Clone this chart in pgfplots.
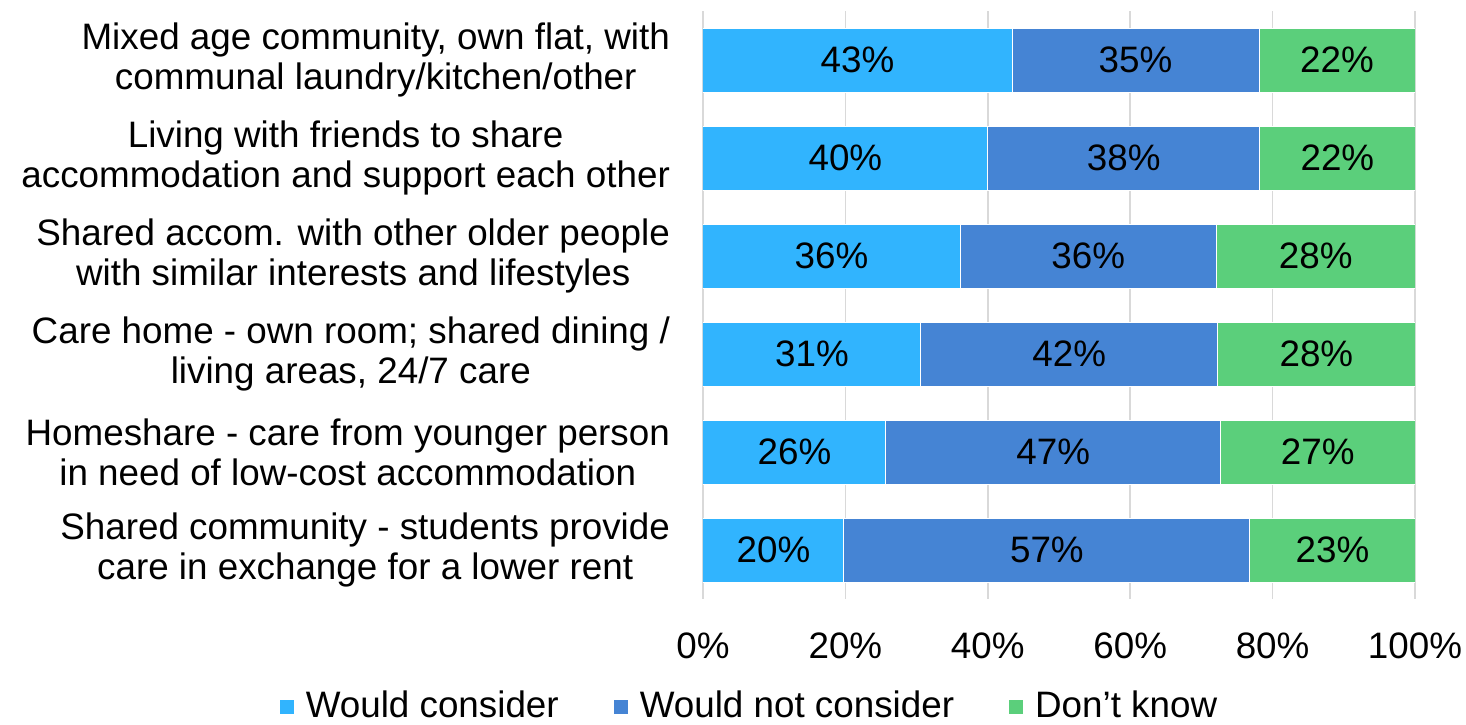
\documentclass[border=0pt]{standalone}
\usepackage{fontspec}
\setmainfont{Liberation Sans}
\usepackage{pgfplots}
\usepackage{pgfplotstable}
\pgfplotsset{compat=1.18}

\definecolor{lightblue}{HTML}{31B4FE}
\definecolor{midblue}{HTML}{4584D4}
\definecolor{lightgreen}{HTML}{5BCF7B}

\pgfplotstableread{
y would wouldnot dontknow
0 43.4  34.7  21.9
1 40.0  38.2  21.8
2 36.1  36.0  27.9
3 30.6  41.7  27.7
4 25.7  47.0  27.3
5 19.8  57.0  23.2
}\datatable

\begin{document}
\begin{tikzpicture}[font=\fontsize{18.4}{20}\selectfont]
    \useasboundingbox (-351.5pt,-62.5pt) rectangle (381.5pt,299.5pt);
    \begin{axis}[
            at={(0,0)}, anchor=south west,
            xbar stacked,
            scale only axis,
            width=356pt,
            height=294pt,
            bar width=32pt,
            xmin=0, xmax=100,
            ymin=-0.5, ymax=5.5,
            y dir=reverse,
            xtick={0,20,40,60,80,100},
            xticklabel={\pgfmathprintnumber{\tick}\%},
            xticklabel style={yshift=-13.5pt},
            ytick={0,1,2,3,4,5},
            yticklabels={
                {Mixed age community, own flat, with\\communal laundry/kitchen/other},
                {Living with friends to share\\accommodation and support each other},
                {Shared accom. with other older people\\with similar interests and lifestyles},
                {Care home - own room; shared dining /\\living areas, 24/7 care},
                {Homeshare - care from younger person\\in need of low-cost accommodation},
                {Shared community - students provide\\care in exchange for a lower rent}},
            yticklabel style={align=center, xshift=-13pt},
            /pgf/number format/assume math mode=true,
            xmajorgrids=true,
            grid style={gray!30, line width=0.8pt},
            axis line style={draw=none},
            tick style={draw=none},
            nodes near coords={\pgfmathprintnumber[fixed,precision=0]{\rawx}\%},
            every node near coord/.append style={anchor=center, text=black},
            legend style={at={(rel axis cs:0.066,-0.182)}, anchor=center,
                legend columns=-1, draw=none, fill=none,
                /tikz/every even column/.append style={column sep=25pt}},
            legend image code/.code={\fill[#1] (0pt,-4pt) rectangle (7.5pt,3.5pt); \path (11pt,0pt);},
        ]
        \addplot[fill=lightblue, draw=white, line width=0.5pt,
            visualization depends on={\thisrow{would} \as \rawx}]
            table[x=would, y=y] {\datatable};
        \addplot[fill=midblue, draw=white, line width=0.5pt,
            visualization depends on={\thisrow{wouldnot} \as \rawx}]
            table[x=wouldnot, y=y] {\datatable};
        \addplot[fill=lightgreen, draw=white, line width=0.5pt,
            visualization depends on={\thisrow{dontknow} \as \rawx}]
            table[x=dontknow, y=y] {\datatable};
        \legend{Would consider, Would not consider, Don’t know}
    \end{axis}
\end{tikzpicture}
\end{document}
